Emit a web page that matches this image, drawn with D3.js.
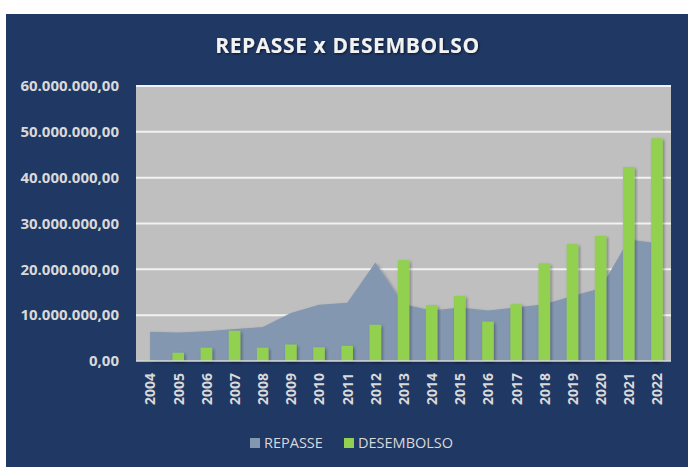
<!DOCTYPE html>
<html>
<head>
<meta charset="utf-8">
<script src="https://cdn.jsdelivr.net/npm/d3@7"></script>
<style>
  body { margin: 0; background: #ffffff; }
  text { font-family: "Open Sans", "Noto Sans", sans-serif; }
</style>
</head>
<body>
<div id="chart"></div>
<script>
// Data
const years = ["2004","2005","2006","2007","2008","2009","2010","2011","2012","2013",
               "2014","2015","2016","2017","2018","2019","2020","2021","2022"];
const repasse = [6.4e6, 6.2e6, 6.5e6, 7.0e6, 7.4e6, 10.5e6, 12.3e6, 12.7e6, 21.5e6, 12.4e6,
                 11.0e6, 11.7e6, 11.0e6, 11.7e6, 12.4e6, 14.2e6, 15.9e6, 26.5e6, 25.7e6];
const desembolso = [0.15e6, 1.8e6, 2.9e6, 6.6e6, 2.9e6, 3.6e6, 3.0e6, 3.3e6, 7.9e6, 22.0e6,
                    12.2e6, 14.2e6, 8.6e6, 12.4e6, 21.3e6, 25.5e6, 27.3e6, 42.3e6, 48.6e6];
const yTicks = [0, 10e6, 20e6, 30e6, 40e6, 50e6, 60e6];

const W = 688, H = 467;
const plot = { left: 136, right: 671, top: 86, bottom: 361 };

const svg = d3.select("#chart")
  .append("svg")
  .attr("width", W)
  .attr("height", H);

// Shadow filters
const defs = svg.append("defs");
const shadow = defs.append("filter").attr("id", "shadow")
  .attr("x", "-30%").attr("y", "-30%").attr("width", "160%").attr("height", "160%");
shadow.append("feDropShadow")
  .attr("dx", 1.5).attr("dy", 1.5).attr("stdDeviation", 1.5)
  .attr("flood-color", "#000").attr("flood-opacity", 0.35);
const tshadow = defs.append("filter").attr("id", "tshadow");
tshadow.append("feDropShadow")
  .attr("dx", 1).attr("dy", 1).attr("stdDeviation", 1)
  .attr("flood-color", "#000").attr("flood-opacity", 0.6);

// Navy panel
svg.append("rect")
  .attr("x", 6).attr("y", 14)
  .attr("width", W - 6).attr("height", H - 14)
  .attr("fill", "#203864");

// Title
svg.append("text")
  .attr("x", 347.5).attr("y", 53)
  .attr("text-anchor", "middle")
  .attr("fill", "#f2f2f2")
  .attr("filter", "url(#tshadow)")
  .style("font-size", "21px")
  .style("font-weight", "bold")
  .style("letter-spacing", "0.6px")
  .text("REPASSE x DESEMBOLSO");

// Scales
const x = d3.scaleBand()
  .domain(years)
  .range([plot.left, plot.right])
  .paddingInner(0.59)
  .paddingOuter(0.295);

const xc = d3.scalePoint()
  .domain(years)
  .range([plot.left, plot.right])
  .padding(0.5);

const y = d3.scaleLinear()
  .domain([0, 60e6])
  .range([plot.bottom, plot.top]);

// Plot background
svg.append("rect")
  .attr("x", plot.left).attr("y", plot.top)
  .attr("width", plot.right - plot.left)
  .attr("height", plot.bottom - plot.top)
  .attr("fill", "#bfbfbf");

// Gridlines
svg.append("g")
  .selectAll("line")
  .data(yTicks.filter(d => d > 0))
  .enter().append("line")
  .attr("x1", plot.left).attr("x2", plot.right)
  .attr("y1", d => y(d)).attr("y2", d => y(d))
  .attr("stroke", "#f2f2f2")
  .attr("stroke-width", 2);

// Area (REPASSE)
const area = d3.area()
  .x((d, i) => xc(years[i]))
  .y0(y(0))
  .y1(d => y(d));

svg.append("path")
  .datum(repasse)
  .attr("d", area)
  .attr("fill", "#8497b0")
  .attr("filter", "url(#shadow)");

// Bars (DESEMBOLSO)
svg.append("g")
  .selectAll(".bar")
  .data(desembolso)
  .enter().append("rect")
  .attr("class", "bar")
  .attr("x", (d, i) => x(years[i]))
  .attr("y", d => y(d))
  .attr("width", x.bandwidth())
  .attr("height", d => y(0) - y(d))
  .attr("fill", "#92d050")
  .attr("filter", "url(#shadow)");

// Baseline
svg.append("line")
  .attr("x1", plot.left).attr("x2", plot.right)
  .attr("y1", plot.bottom).attr("y2", plot.bottom)
  .attr("stroke", "#d9d9d9")
  .attr("stroke-width", 1.5);

// Y axis
const fmt = v => d3.format(",.2f")(v).replace(/,/g, "#").replace(".", ",").replace(/#/g, ".");
const yAxis = svg.append("g")
  .attr("transform", `translate(${plot.left},0)`)
  .call(d3.axisLeft(y).tickValues(yTicks).tickFormat(fmt).tickSize(0).tickPadding(17));
yAxis.select(".domain").remove();
yAxis.selectAll("text")
  .attr("fill", "#d9d9d9")
  .style("font-size", "15px")
  .style("font-weight", "bold")
  .style("font-family", "'Open Sans', sans-serif");

// X axis
const xAxis = svg.append("g")
  .attr("transform", `translate(0,${plot.bottom})`)
  .call(d3.axisBottom(xc).tickSize(0));
xAxis.select(".domain").remove();
xAxis.selectAll("text")
  .attr("fill", "#d9d9d9")
  .attr("transform", "rotate(-90)")
  .attr("text-anchor", "end")
  .attr("x", -12)
  .attr("y", 0)
  .attr("dy", "0.35em")
  .style("font-size", "14px")
  .style("font-weight", "bold")
  .style("font-family", "'Open Sans', sans-serif");

// Legend
const legend = [
  { name: "REPASSE", color: "#8497b0", x: 250 },
  { name: "DESEMBOLSO", color: "#92d050", x: 344 }
];
const lg = svg.append("g")
  .selectAll("g")
  .data(legend)
  .enter().append("g")
  .attr("transform", d => `translate(${d.x},438)`);
lg.append("rect")
  .attr("width", 10).attr("height", 10)
  .attr("fill", d => d.color);
lg.append("text")
  .attr("x", 14).attr("y", 10)
  .attr("fill", "#d9d9d9")
  .style("font-size", "14.5px")
  .text(d => d.name);
</script>
</body>
</html>
